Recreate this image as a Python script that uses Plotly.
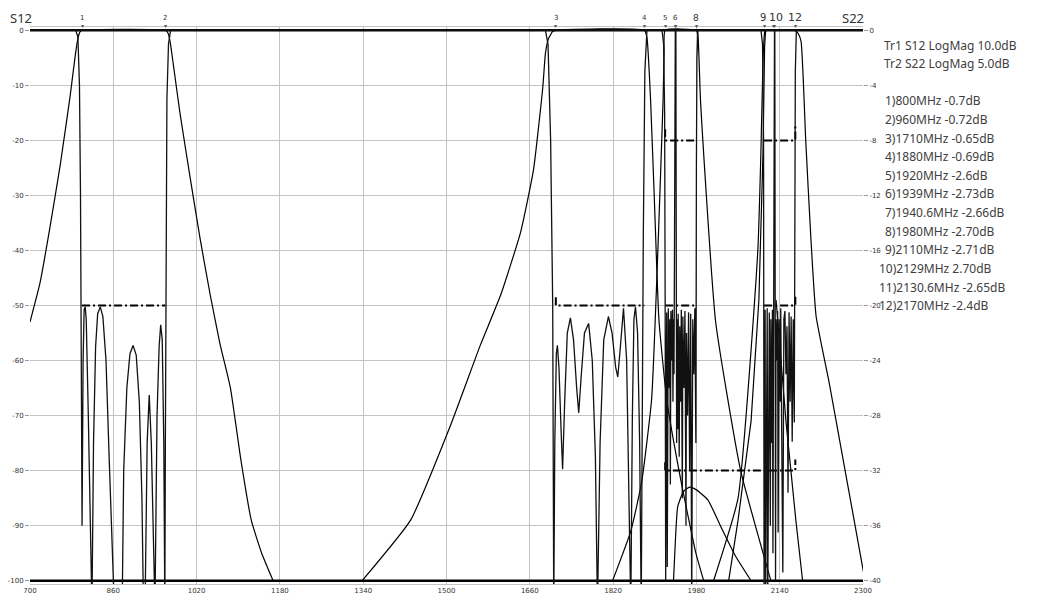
import plotly.graph_objects as go

# ---------------- data ----------------
x_ticks = [700, 860, 1020, 1180, 1340, 1500, 1660, 1820, 1980, 2140, 2300]
y_left_ticks = [0, -10, -20, -30, -40, -50, -60, -70, -80, -90, -100]
y_right_ticks = [0, -4, -8, -12, -16, -20, -24, -28, -32, -36, -40]

# S12 transmission traces (left axis, dB)
s12_b1_f = [700, 719, 738, 758, 777, 787, 792, 796, 800, 960, 965, 969, 975, 988, 1008, 1027, 1046, 1065, 1085, 1105, 1125, 1145, 1167]
s12_b1_db = [-53, -46, -36, -24.5, -12, -4.5, -1.5, -0.3, 0, 0, -0.5, -2, -6, -15, -27, -38, -48, -57, -65, -78, -89, -95, -100]

s12_b3_f = [1338, 1431, 1508, 1565, 1604, 1642, 1667, 1685, 1690, 1696, 1704, 1710, 1880, 1885, 1892, 1900, 1908, 1923, 1950, 1979, 1994]
s12_b3_db = [-100, -89, -71.7, -57.2, -48.1, -36.8, -25.4, -10.3, -4.2, -1.5, -0.2, 0, 0, -1.3, -12.7, -32.7, -52.6, -67, -81.7, -95, -100]

s12_b4_f = [1819, 1854, 1875, 1894, 1906, 1916, 1918, 1920, 1980, 1983, 1988, 2017, 2065, 2117, 2123]
s12_b4_db = [-100, -91, -82, -67, -40, -12.7, -4, 0, 0, -1, -13, -53, -80, -98, -100]

s12_b5_f = [2013, 2060, 2098, 2104, 2108, 2111, 2113, 2168, 2175, 2181, 2190, 2200, 2210, 2235, 2258, 2281, 2302]
s12_b5_db = [-100, -85, -40, -21.8, -5.4, -0.4, 0, 0, -0.5, -2, -20, -38, -52, -64, -76, -88, -99]

iso_a_f = [2042, 2060, 2085, 2100, 2108, 2111, 2113]
iso_a_db = [-100, -89, -71, -49, -22, -3, 0]

hump_f = [1936, 1940, 1944, 1955, 1967, 1980, 2002, 2027, 2055, 2085]
hump_db = [-100, -92, -86.6, -83.8, -83, -83.5, -85.3, -90.2, -95.5, -100]

desc_f = [2133, 2152, 2171, 2184]
desc_db = [-49, -71, -89, -100]

floor_f = [700, 2300]
floor_db = [-100, -100]
top_db = [0, 0]

# S22 return-loss traces (right axis, dB)
s22_b1_f = [700, 788, 792, 795, 797, 799, 800, 802, 804, 806, 808, 812, 816, 819,
            822, 826, 830, 835, 840, 846, 852, 858, 862, 877,
            880, 886, 892, 898, 904, 910, 915, 918,
            921, 925, 929, 933, 938, 940,
            944, 948, 951, 954, 957, 959,
            960, 961, 963, 966, 970, 2300]
s22_b1_db = [0, 0, -0.5, -4, -12, -25, -36, -24, -20.3, -20.1, -21, -28, -36, -42,
             -30, -23, -20.6, -20.1, -20.8, -24, -31, -38, -42, -42,
             -32, -26, -23.5, -22.9, -23.6, -27, -34, -42,
             -42, -30, -26.5, -30, -40, -42,
             -28, -23, -21.4, -22.5, -30, -42,
             -30, -15, -5, -1, 0, 0]

s22_b3_f = [700, 1690, 1695, 1700, 1704, 1706, 1708, 1711, 1713, 1716, 1720, 1723, 1727, 1732, 1738, 1744, 1750,
            1754, 1759, 1765, 1773, 1780, 1786, 1790, 1795, 1802, 1811, 1818, 1825, 1829, 1834, 1840,
            1846, 1851, 1854, 1857, 1860, 1863, 1867, 1871, 1874, 1878, 1881, 1885, 2300]
s22_b3_db = [0, 0, -1, -8, -20, -42, -30, -23.5, -22.9, -24.5, -29, -31.9, -27, -22, -20.9, -22.5, -26,
             -27.8, -25, -22, -21.3, -24, -31, -42, -30, -22.5, -20.8, -22, -24.5, -25.2, -23, -20.2,
             -24, -34, -42, -28, -21, -20.1, -22, -30, -42, -15, -3, 0, 0]

s22_b4_f = [700, 1914, 1917, 1919, 1920, 1921, 1922, 1923, 1924, 1925, 1926, 1928, 1929, 1930, 1931, 1933,
            1934, 1935, 1936, 1937, 1938, 1939, 1939.5, 1940.6, 1941, 1942, 1943, 1944, 1945, 1947, 1948,
            1950, 1951, 1953, 1954, 1956, 1958, 1960, 1961, 1963, 1965, 1967, 1969, 1971, 1973, 1975,
            1977, 1979, 1980, 1981, 1983, 2300]
s22_b4_db = [0, 0, -1, -6, -20, -40, -26, -20.5, -39, -22, -20.2, -26, -21, -33, -20.4, -24,
             -20.3, -27, -21, -25, -19, -5, 0, 0, -10, -30, -21, -29, -20.6, -31, -21.5,
             -27, -20.3, -34, -20.8, -26, -20.4, -36, -22, -28, -20.5, -32, -20.6, -42, -21, -25,
             -20.2, -30, -10, -2, 0, 0]

s22_b5_f = [700, 2104, 2107, 2109, 2110, 2111, 2112, 2113, 2115, 2116, 2117, 2119, 2120, 2122, 2123, 2125,
            2126, 2127, 2128, 2129, 2130, 2130.6, 2131, 2132, 2133, 2135, 2136, 2137, 2139, 2141, 2142,
            2144, 2146, 2148, 2150, 2152, 2154, 2156, 2158, 2160, 2162, 2164, 2166, 2168, 2169, 2170,
            2172, 2300]
s22_b5_db = [0, 0, -1, -8, -42, -25, -20.3, -42, -21, -20.2, -42, -22, -20.5, -36, -21, -30,
             -20.3, -38, -20, -10, 0, 0, -10, -40, -21, -24, -20.4, -36.5, -21, -27, -20.2,
             -34, -39.4, -21, -20.4, -25, -21.5, -33.6, -20.5, -27, -20.8, -29.9, -21, -28.5, -12, -3,
             0, 0]

# limit masks (left axis, dB)
mask_b1_f = [800, 960]
mask_b1_db = [-50, -50]
mask_b3_f = [1710, 1710, 1880]
mask_b3_db = [-48.5, -50, -50]
mask_b4_hi_f = [1920, 1920, 1980]
mask_b4_hi_db = [-18, -20, -20]
mask_b4_lo_f = [1920, 1980]
mask_b4_lo_db = [-50, -50]
mask_b5_hi_f = [2110, 2170, 2170]
mask_b5_hi_db = [-20, -20, -17.5]
mask_b5_lo_f = [2110, 2170, 2170]
mask_b5_lo_db = [-50, -50, -48]
mask_iso_f = [1920, 1920, 2170, 2170]
mask_iso_db = [-78.5, -80, -80, -78]

# markers
marker_f = [800, 960, 1710, 1880, 1920, 1939, 1940.6, 1980, 2110, 2129, 2130.6, 2170]
marker_lbl = ["1", "2", "3", "4", "5", "6", "", "8", "9", "10", "", "12"]
marker_lbl_size = [7, 7, 7, 7, 7, 7, 7, 9, 10, 11, 11, 11]
marker_lbl_nudge = [0, 0, 0, 0, 0, 0, 0, 0, -1, 2, 0, 0]

readout_lines = [
    "1)800MHz -0.7dB", "2)960MHz -0.72dB", "3)1710MHz -0.65dB", "4)1880MHz -0.69dB",
    "5)1920MHz -2.6dB", "6)1939MHz -2.73dB", "7)1940.6MHz -2.66dB", "8)1980MHz -2.70dB",
    "9)2110MHz -2.71dB", "10)2129MHz 2.70dB", "11)2130.6MHz -2.65dB", "12)2170MHz -2.4dB",
]
trace_info = ["Tr1 S12 LogMag 10.0dB", "Tr2 S22 LogMag 5.0dB"]

# ---------------- figure ----------------
fig = go.Figure()
SMOOTH = dict(color="black", width=1.2, shape="spline", smoothing=0.45)
LINE = dict(color="black", width=1.2)

for fx, fy in [(s12_b1_f, s12_b1_db), (s12_b3_f, s12_b3_db), (s12_b4_f, s12_b4_db),
               (s12_b5_f, s12_b5_db), (hump_f, hump_db)]:
    fig.add_trace(go.Scatter(x=fx, y=fy, mode="lines", line=SMOOTH, showlegend=False, hoverinfo="skip"))
for fx, fy in [(iso_a_f, iso_a_db), (desc_f, desc_db)]:
    fig.add_trace(go.Scatter(x=fx, y=fy, mode="lines", line=LINE, showlegend=False, hoverinfo="skip"))

fig.add_trace(go.Scatter(x=floor_f, y=floor_db, mode="lines", line=dict(color="black", width=2.5),
                         showlegend=False, hoverinfo="skip"))

for fx, fy in [(s22_b1_f, s22_b1_db), (s22_b3_f, s22_b3_db), (s22_b4_f, s22_b4_db), (s22_b5_f, s22_b5_db)]:
    fig.add_trace(go.Scatter(x=fx, y=fy, mode="lines", line=dict(color="#111", width=1.3),
                             yaxis="y2", showlegend=False, hoverinfo="skip"))

DASH = dict(color="black", width=2, dash="8px,3px,2px,3px")
for fx, fy in [(mask_b1_f, mask_b1_db), (mask_b3_f, mask_b3_db), (mask_b4_hi_f, mask_b4_hi_db),
               (mask_b4_lo_f, mask_b4_lo_db), (mask_b5_hi_f, mask_b5_hi_db), (mask_b5_lo_f, mask_b5_lo_db),
               (mask_iso_f, mask_iso_db)]:
    fig.add_trace(go.Scatter(x=fx, y=fy, mode="lines", line=DASH, showlegend=False, hoverinfo="skip"))

# top line at 0 dB (thick)
fig.add_trace(go.Scatter(x=floor_f, y=top_db, mode="lines", line=dict(color="black", width=2.5),
                         showlegend=False, hoverinfo="skip"))

# the page body has an 8px margin: figure is shifted by 8px, so size it to fit
OFF = 8
W, H = 1032, 592
PL, PR, PT, PB = 30, 863, 27, 584          # plot area in page pixels
L, R, T, B = PL - OFF, W - (PR - OFF), PT - OFF, H - (PB - OFF)
pw, ph = PR - PL, PB - PT


def px(xp):
    return (xp - PL) / pw


def py(yp):
    return (PB - yp) / ph


ann = [
    dict(text="S12", x=px(8), y=py(7), xanchor="left", yanchor="top", showarrow=False,
         xref="paper", yref="paper", font=dict(size=13, color="#333", family="Noto Sans")),
    dict(text="S22", x=px(866), y=py(7), xanchor="right", yanchor="top", showarrow=False,
         xref="paper", yref="paper", font=dict(size=13, color="#333", family="Noto Sans")),
]
for i, t in enumerate(trace_info):
    ann.append(dict(text=t, x=px(882), y=py(45 + 19 * i), xanchor="left", yanchor="middle",
                    showarrow=False, xref="paper", yref="paper",
                    font=dict(size=12, color="#404040", family="Noto Sans")))
for i, t in enumerate(readout_lines):
    xl = 883 if i < 9 else 877
    ann.append(dict(text=t, x=px(xl), y=py(101 + 18.6 * i), xanchor="left", yanchor="middle",
                    showarrow=False, xref="paper", yref="paper",
                    font=dict(size=12, color="#404040", family="Noto Sans")))
# marker labels and small pointer glyphs, positioned on the frequency axis
for f, lbl, sz, nd in zip(marker_f, marker_lbl, marker_lbl_size, marker_lbl_nudge):
    if lbl:
        ann.append(dict(text=lbl, x=f, xref="x", y=py(18), yref="paper", xanchor="center",
                        yanchor="middle", showarrow=False, xshift=nd,
                        font=dict(size=sz, color="#333", family="DejaVu Sans")))
    ann.append(dict(text="\u25be", x=f, xref="x", y=py(25), yref="paper", xanchor="center",
                    yanchor="middle", showarrow=False,
                    font=dict(size=6, color="#555", family="DejaVu Sans")))

fig.update_layout(
    width=W, height=H,
    margin=dict(l=L, r=R, t=T, b=B, autoexpand=False),
    paper_bgcolor="white", plot_bgcolor="white",
    showlegend=False,
    annotations=ann,
    xaxis=dict(range=[700, 2300], tickvals=x_ticks, ticktext=[str(v) for v in x_ticks],
               showgrid=True, gridcolor="#c4c4c4", gridwidth=1, zeroline=False,
               showline=True, linecolor="#c4c4c4", mirror=True, ticks="", automargin=False,
               tickfont=dict(size=7, color="#333", family="DejaVu Sans")),
    yaxis=dict(range=[-100.6, 0.6], tickvals=y_left_ticks, ticktext=[str(v) for v in y_left_ticks],
               showgrid=True, gridcolor="#c4c4c4", gridwidth=1, zeroline=False, automargin=False,
               showline=False, ticks="outside", ticklen=4, tickcolor="#999",
               tickfont=dict(size=7, color="#333", family="DejaVu Sans")),
    yaxis2=dict(range=[-40.24, 0.24], tickvals=y_right_ticks, ticktext=[str(v) for v in y_right_ticks],
                overlaying="y", side="right", showgrid=False, zeroline=False, automargin=False,
                ticks="outside", ticklen=4, tickcolor="#999",
                tickfont=dict(size=7, color="#333", family="DejaVu Sans")),
)

fig.write_html("out.html")
